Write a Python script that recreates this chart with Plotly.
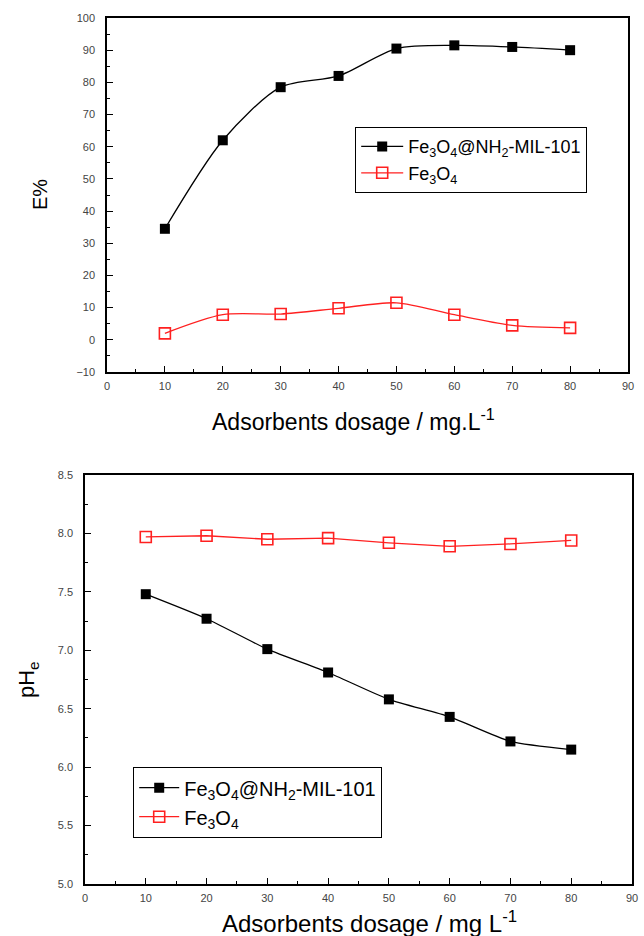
import plotly.graph_objects as go

# Adsorbent dosage (mg/L)
dosage = [10, 20, 30, 40, 50, 60, 70, 80]

# Removal efficiency E%
e_composite = [34.5, 62.0, 78.5, 82.0, 90.5, 91.5, 91.0, 90.0]
e_fe3o4 = [2.0, 7.8, 8.0, 9.8, 11.5, 7.8, 4.5, 3.7]

# Equilibrium pH
ph_composite = [7.48, 7.27, 7.01, 6.81, 6.58, 6.43, 6.22, 6.15]
ph_fe3o4 = [7.97, 7.98, 7.95, 7.96, 7.92, 7.89, 7.91, 7.94]

name_composite = "Fe<sub>3</sub>O<sub>4</sub>@NH<sub>2</sub>-MIL-101"
name_fe3o4 = "Fe<sub>3</sub>O<sub>4</sub>"

W, H = 644, 936
FONT = "Liberation Sans, Arial, sans-serif"

def px_x(a, b):
    return [a / W, b / W]

def px_y(top, bottom):
    return [1 - bottom / H, 1 - top / H]

fig = go.Figure()

black_marker = dict(symbol="square", size=10, color="black")
red_marker = dict(symbol="square-open", size=11, color="#ff2020", line=dict(width=1.6))

fig.add_trace(go.Scatter(x=dosage, y=e_composite, mode="lines+markers", name=name_composite,
                         line=dict(color="black", width=1.3, shape="spline", smoothing=0.8),
                         marker=black_marker, xaxis="x", yaxis="y", legend="legend"))
fig.add_trace(go.Scatter(x=dosage, y=e_fe3o4, mode="lines+markers", name=name_fe3o4,
                         line=dict(color="#ff2020", width=1.3, shape="spline", smoothing=0.8),
                         marker=red_marker, xaxis="x", yaxis="y", legend="legend"))
fig.add_trace(go.Scatter(x=dosage, y=ph_composite, mode="lines+markers", name=name_composite,
                         line=dict(color="black", width=1.3, shape="spline", smoothing=0.6),
                         marker=black_marker, xaxis="x2", yaxis="y2", legend="legend2"))
fig.add_trace(go.Scatter(x=dosage, y=ph_fe3o4, mode="lines+markers", name=name_fe3o4,
                         line=dict(color="#ff2020", width=1.3, shape="linear"),
                         marker=red_marker, xaxis="x2", yaxis="y2", legend="legend2"))

tickfont = dict(family=FONT, size=11, color="#444")
common = dict(showline=True, linecolor="black", linewidth=1.5, mirror=True,
              ticks="inside", ticklen=6, tickwidth=1.2, tickcolor="black",
              showgrid=False, zeroline=False, tickfont=tickfont, automargin=False)
minor = dict(ticks="inside", ticklen=3, tickwidth=1, tickcolor="black", showgrid=False)

legend_style = dict(xanchor="left", yanchor="top", bordercolor="black", borderwidth=1.2,
                    bgcolor="white", tracegroupgap=0)

fig.update_layout(
    width=W, height=H,
    margin=dict(l=0, r=0, t=0, b=0, autoexpand=False),
    paper_bgcolor="white", plot_bgcolor="white",
    font=dict(family=FONT, color="black"),
    xaxis=dict(domain=px_x(107, 628), range=[0, 90], dtick=10, anchor="y",
               ticklabelstandoff=3, minor=dict(dtick=5, **minor), **common),
    yaxis=dict(domain=px_y(18, 372), range=[-10, 100], dtick=10, anchor="x",
               ticklabelstandoff=8, minor=dict(dtick=5, **minor), **common),
    xaxis2=dict(domain=px_x(85, 632), range=[0, 90], dtick=10, anchor="y2",
                ticklabelstandoff=3, minor=dict(dtick=5, **minor), **common),
    yaxis2=dict(domain=px_y(475, 884), range=[5.0, 8.5], dtick=0.5, tickformat=".1f",
                anchor="x2", ticklabelstandoff=8, minor=dict(dtick=0.25, **minor), **common),
    legend=dict(x=355 / W, y=1 - 127 / H, itemwidth=42,
                font=dict(family=FONT, size=18, color="black"), **legend_style),
    legend2=dict(x=133 / W, y=1 - 767 / H, itemwidth=40,
                 font=dict(family=FONT, size=20, color="black"), **legend_style),
    showlegend=True,
)

fig.add_annotation(text="Adsorbents dosage / mg.L<sup>-1</sup>", x=353 / W, y=1 - 420 / H,
                   xref="paper", yref="paper", xanchor="center", yanchor="middle",
                   showarrow=False, font=dict(family=FONT, size=23, color="black"))
fig.add_annotation(text="E%", x=40 / W, y=1 - 195 / H, xref="paper", yref="paper",
                   xanchor="center", yanchor="middle", showarrow=False, textangle=-90,
                   font=dict(family=FONT, size=20, color="black"))
fig.add_annotation(text="Adsorbents dosage / mg L<sup>-1</sup>", x=369 / W, y=1 - 922 / H,
                   xref="paper", yref="paper", xanchor="center", yanchor="middle",
                   showarrow=False, font=dict(family=FONT, size=24, color="black"))
fig.add_annotation(text="pH<sub>e</sub>", x=28 / W, y=1 - 680 / H, xref="paper", yref="paper",
                   xanchor="center", yanchor="middle", showarrow=False, textangle=-90,
                   font=dict(family=FONT, size=22, color="black"))

fig.write_html("out.html")
